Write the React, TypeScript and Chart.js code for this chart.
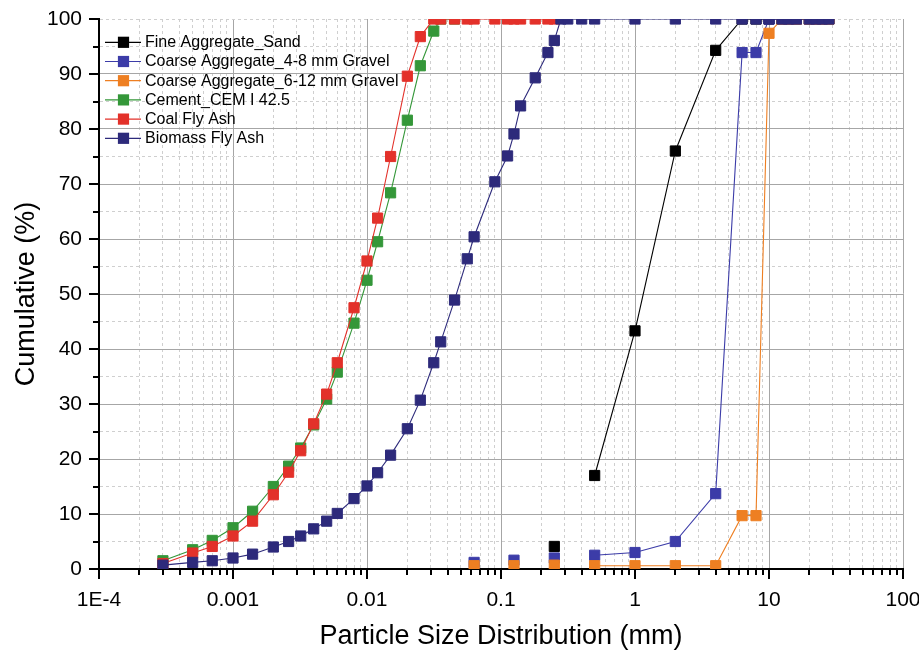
import React, { useEffect, useRef } from 'react';
import { Chart, registerables } from 'chart.js';

Chart.register(...registerables);

const FONT = '"Liberation Sans", Arial, Helvetica, sans-serif';

// ---- axis ticks ----
const xDecades = [1e-4, 1e-3, 1e-2, 1e-1, 1, 10, 100];
const xTickLabels = ['1E-4', '0.001', '0.01', '0.1', '1', '10', '100'];
const xMinorMultipliers = [2, 3, 4, 5, 6, 7, 8, 9];
const yTickValues = [0, 5, 10, 15, 20, 25, 30, 35, 40, 45, 50, 55, 60, 65, 70, 75, 80, 85, 90, 95, 100];

// ---- series names ----
const seriesNames = [
  'Fine Aggregate_Sand',
  'Coarse Aggregate_4-8 mm Gravel',
  'Coarse Aggregate_6-12 mm Gravel',
  'Cement_CEM I 42.5',
  'Coal Fly Ash',
  'Biomass Fly Ash',
];

// ---- data (particle size in mm, cumulative %) ----
const sandX = [0.25, 0.5, 1, 2, 4, 6.3, 8, 10, 12.5, 14, 16, 20, 22.4, 25, 28];
const sandY = [4.1, 17.0, 43.3, 76.0, 94.3, 100, 100, 100, 100, 100, 100, 100, 100, 100, 100];

const gravel48X = [0.063, 0.125, 0.25, 0.5, 1, 2, 4, 6.3, 8, 10, 12.5, 14, 16, 20, 22.4, 25, 28];
const gravel48Y = [1.2, 1.6, 2.0, 2.5, 3.0, 5.0, 13.7, 93.9, 93.9, 100, 100, 100, 100, 100, 100, 100, 100];

const gravel612X = [0.063, 0.125, 0.25, 0.5, 1, 2, 4, 6.3, 8, 10, 12.5, 14, 16, 20, 22.4, 25, 28];
const gravel612Y = [0.6, 0.6, 0.7, 0.6, 0.6, 0.6, 0.6, 9.7, 9.7, 97.4, 100, 100, 100, 100, 100, 100, 100];

const cementX = [0.0003, 0.0005, 0.0007, 0.001, 0.0014, 0.002, 0.0026, 0.0032, 0.004, 0.005, 0.006, 0.008, 0.01, 0.012, 0.015, 0.02, 0.025, 0.0315, 0.0355, 0.045];
const cementY = [1.5, 3.5, 5.2, 7.5, 10.5, 15.0, 18.7, 22.0, 26.2, 30.9, 35.8, 44.7, 52.5, 59.5, 68.4, 81.6, 91.5, 97.8, 100, 100];

const coalX = [0.0003, 0.0005, 0.0007, 0.001, 0.0014, 0.002, 0.0026, 0.0032, 0.004, 0.005, 0.006, 0.008, 0.01, 0.012, 0.015, 0.02, 0.025, 0.0315, 0.0355, 0.045, 0.056, 0.063, 0.09, 0.112, 0.125, 0.14, 0.18, 0.224, 0.25];
const coalY = [1.0, 2.9, 4.1, 6.0, 8.7, 13.5, 17.6, 21.5, 26.4, 31.8, 37.5, 47.5, 56.0, 63.8, 75.0, 89.6, 96.8, 100, 100, 100, 100, 100, 100, 100, 100, 100, 100, 100, 100];

const biomassX = [0.0003, 0.0005, 0.0007, 0.001, 0.0014, 0.002, 0.0026, 0.0032, 0.004, 0.005, 0.006, 0.008, 0.01, 0.012, 0.015, 0.02, 0.025, 0.0315, 0.0355, 0.045, 0.056, 0.063, 0.09, 0.112, 0.125, 0.14, 0.18, 0.224, 0.25, 0.28, 0.315, 0.4, 0.5, 1, 2, 4, 6.3, 8, 10, 12.5, 14, 16, 20, 22.4, 25, 28];
const biomassY = [0.7, 1.2, 1.5, 2.0, 2.7, 4.0, 5.0, 6.0, 7.3, 8.7, 10.1, 12.8, 15.1, 17.5, 20.7, 25.5, 30.7, 37.5, 41.3, 48.9, 56.4, 60.4, 70.4, 75.1, 79.1, 84.2, 89.3, 93.9, 96.1, 100, 100, 100, 100, 100, 100, 100, 100, 100, 100, 100, 100, 100, 100, 100, 100, 100];

// index of the first point from which the connecting line is drawn
const lineStarts = [1, 3, 3, 0, 0, 0];

// ---- styles ----
const seriesColors = ['#000000', '#3C3CA8', '#EE7F22', '#349739', '#E3312A', '#2D2A7B'];
const MAJOR_GRID = '#a6a6a6';
const MINOR_GRID = '#cfcfcf';

const isDecade = (v: number) => Math.abs(Math.log10(v) - Math.round(Math.log10(v))) < 1e-6;

const xTickValues: number[] = [];
xDecades.forEach((d, i) => {
  xTickValues.push(d);
  if (i < xDecades.length - 1) xMinorMultipliers.forEach((m) => xTickValues.push(d * m));
});

const xLabelFor = (v: number) => {
  const i = xDecades.findIndex((d) => Math.abs(Math.log10(d) - Math.log10(v)) < 1e-6);
  return i >= 0 ? xTickLabels[i] : '';
};

const toPoints = (xs: number[], ys: number[]) => xs.map((x, i) => ({ x, y: ys[i] }));

const tickMarkPlugin = {
  id: 'tickMarks',
  afterDraw(chart: any) {
    const { ctx, chartArea } = chart;
    const xs = chart.scales.x;
    const ys = chart.scales.y;
    ctx.save();
    ctx.strokeStyle = '#000';
    ctx.lineWidth = 2;
    ctx.beginPath();
    xs.ticks.forEach((t: any) => {
      const p = Math.round(xs.getPixelForValue(t.value));
      const len = isDecade(t.value) ? 10 : 6;
      ctx.moveTo(p, chartArea.bottom);
      ctx.lineTo(p, chartArea.bottom + len);
    });
    ys.ticks.forEach((t: any) => {
      const p = Math.round(ys.getPixelForValue(t.value));
      const len = t.value % 10 === 0 ? 10 : 6;
      ctx.moveTo(chartArea.left, p);
      ctx.lineTo(chartArea.left - len, p);
    });
    ctx.stroke();
    ctx.restore();
  },
};

const legendPlugin = {
  id: 'insideLegend',
  afterDraw(chart: any) {
    const { ctx, chartArea } = chart;
    ctx.save();
    chart.data.datasets.forEach((ds: any, i: number) => {
      const y = chartArea.top + 23.3 + i * 19.2;
      const x0 = chartArea.left + 6;
      ctx.strokeStyle = ds.borderColor;
      ctx.lineWidth = 1.2;
      ctx.beginPath();
      ctx.moveTo(x0, y);
      ctx.lineTo(x0 + 36, y);
      ctx.stroke();
      ctx.fillStyle = ds.backgroundColor;
      ctx.fillRect(x0 + 18.5 - 5.6, y - 5.6, 11.2, 11.2);
      ctx.fillStyle = '#000';
      ctx.font = `16px ${FONT}`;
      ctx.textAlign = 'left';
      ctx.textBaseline = 'middle';
      ctx.fillText(ds.label, x0 + 40, y + 0.5);
    });
    ctx.restore();
  },
};

export default function App() {
  const ref = useRef<HTMLCanvasElement | null>(null);

  useEffect(() => {
    if (!ref.current) return;
    const xsAll = [sandX, gravel48X, gravel612X, cementX, coalX, biomassX];
    const ysAll = [sandY, gravel48Y, gravel612Y, cementY, coalY, biomassY];
    const datasets = seriesNames.map((name, i) => {
      const color = seriesColors[i];
      const start = lineStarts[i];
      return {
        label: name,
        data: toPoints(xsAll[i], ysAll[i]),
        borderColor: color,
        backgroundColor: color,
        borderWidth: 1.1,
        pointStyle: 'rect',
        pointRadius: 7.2,
        pointHoverRadius: 7.2,
        pointBorderWidth: 1,
        pointBorderColor: color,
        pointBackgroundColor: color,
        tension: 0,
        clip: 0,
        order: seriesNames.length - i,
        segment: {
          borderColor: (c: any) => (c.p0DataIndex < start ? 'rgba(0,0,0,0)' : undefined),
        },
      };
    });

    const chart = new Chart(ref.current, {
      type: 'line',
      data: { datasets: datasets as any },
      plugins: [tickMarkPlugin, legendPlugin],
      options: {
        responsive: false,
        animation: false,
        devicePixelRatio: 1,
        events: [],
        layout: { padding: { left: 0, right: 16, top: 19, bottom: 0 } },
        plugins: {
          legend: { display: false },
          tooltip: { enabled: false },
        },
        scales: {
          x: {
            type: 'logarithmic',
            min: 1e-4,
            max: 100,
            afterBuildTicks: (scale: any) => {
              scale.ticks = xTickValues.map((value) => ({ value }));
            },
            afterFit: (scale: any) => {
              scale.height = 86;
              scale.paddingLeft = 0;
              scale.paddingRight = 0;
            },
            grid: {
              color: (c: any) => (c.tick && isDecade(c.tick.value) ? MAJOR_GRID : MINOR_GRID),
              lineWidth: 1,
              drawTicks: true,
              tickLength: 9,
              tickColor: 'rgba(0,0,0,0)',
            },
            border: {
              display: true,
              color: '#000',
              width: 2,
              dash: (c: any) => (c.tick && !isDecade(c.tick.value) ? [3, 3] : []),
            },
            ticks: {
              autoSkip: false,
              maxRotation: 0,
              minRotation: 0,
              padding: 10,
              color: '#000',
              font: { family: FONT, size: 21 },
              callback: (v: any) => xLabelFor(Number(v)),
            },
            title: {
              display: true,
              text: 'Particle Size Distribution (mm)',
              color: '#000',
              font: { family: FONT, size: 27 },
              padding: { top: 0, bottom: 2 },
            },
          },
          y: {
            type: 'linear',
            min: 0,
            max: 100,
            afterBuildTicks: (scale: any) => {
              scale.ticks = yTickValues.map((value) => ({ value }));
            },
            afterFit: (scale: any) => {
              scale.width = 99;
              scale.paddingTop = 0;
              scale.paddingBottom = 0;
            },
            grid: {
              color: (c: any) =>
                c.tick && c.tick.value % 10 === 0 && c.tick.value !== 100 ? MAJOR_GRID : MINOR_GRID,
              lineWidth: 1,
              drawTicks: true,
              tickLength: 9,
              tickColor: 'rgba(0,0,0,0)',
            },
            border: {
              display: true,
              color: '#000',
              width: 2,
              dash: (c: any) =>
                c.tick && (c.tick.value % 10 !== 0 || c.tick.value === 100) ? [3, 3] : [],
            },
            ticks: {
              autoSkip: false,
              padding: 8,
              color: '#000',
              font: { family: FONT, size: 21 },
              callback: (v: any) => (Number(v) % 10 === 0 ? String(v) : ''),
            },
            title: {
              display: true,
              text: 'Cumulative (%)',
              color: '#000',
              font: { family: FONT, size: 27 },
              padding: { top: 10, bottom: 0 },
            },
          },
        },
      } as any,
    });
    return () => chart.destroy();
  }, []);

  return (
    <div style={{ position: 'absolute', left: 0, top: 0, width: 919, height: 655, background: '#fff' }}>
      <canvas ref={ref} width={919} height={655} style={{ display: 'block', width: 919, height: 655 }} />
    </div>
  );
}
